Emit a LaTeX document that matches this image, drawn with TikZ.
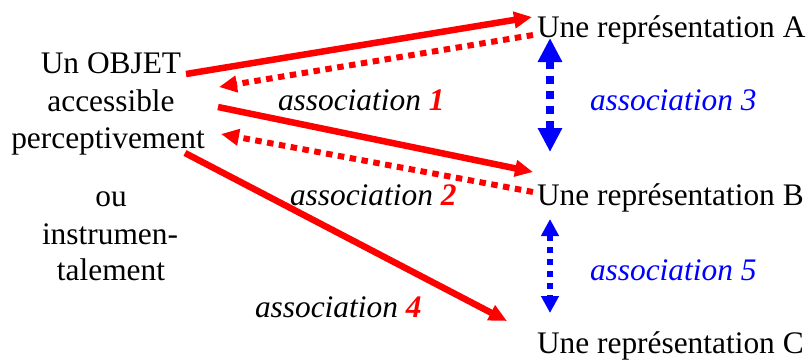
\documentclass[tikz,border=0pt]{standalone}
\usepackage{fontspec}
\setmainfont{Liberation Serif}
\newfontfamily\tnr{Liberation Serif}
\usetikzlibrary{arrows.meta}
\definecolor{rred}{RGB}{255,0,0}
\definecolor{bblue}{RGB}{0,0,255}
\tikzset{
  txt/.style={inner sep=0pt, outer sep=0pt, font=\tnr\fontsize{31.5}{37}\selectfont},
  lineL/.style={txt, anchor=base},
  rep/.style={txt, anchor=base west},
  lab/.style={txt, anchor=base west, font=\tnr\fontsize{31.5}{37}\selectfont\itshape},
  solidarrow/.style={draw=rred, line width=6.5bp, -{Triangle[length=18bp,width=16bp]}},
  dotarrow/.style={draw=rred, line width=6bp, dash pattern=on 6.5bp off 5.5bp, -{Triangle[length=18bp,width=16bp]}},
  bigdbl/.style={draw=bblue, line width=8bp, dash pattern=on 8bp off 7bp, {Triangle[length=24bp,width=23bp]}-{Triangle[length=24bp,width=23bp]}},
  smalldbl/.style={draw=bblue, line width=6bp, dash pattern=on 6bp off 6bp, {Triangle[length=17bp,width=17bp]}-{Triangle[length=17bp,width=17bp]}},
}
\begin{document}
\begin{tikzpicture}[x=1bp,y=-1bp]
\useasboundingbox (0,0) rectangle (811,359);
% left text block
\node[lineL] (o1) at (111,73) {Un OBJET};
\node[lineL] (o2) at (111,111) {accessible};
\node[lineL] (o3) at (108,148) {perceptivement};
\node[lineL] (u1) at (111,206) {ou};
\node[lineL] (u2) at (110,244) {instrumen-};
\node[lineL] (u3) at (111,280) {talement};
% representations
\node[rep] (ra) at (537,37) {Une représentation A};
\node[rep] (rb) at (537,205) {Une représentation B};
\node[rep] (rc) at (537,353) {Une représentation C};
% labels
\node[lab] (l1) at (278,110) {association \textcolor{rred}{\bfseries 1}};
\node[lab] (l2) at (290,205) {association \textcolor{rred}{\bfseries 2}};
\node[lab] (l4) at (255,317) {association \textcolor{rred}{\bfseries 4}};
\node[lab, text=bblue] (l3) at (590,110) {association 3};
\node[lab, text=bblue] (l5) at (590,280) {association 5};
% connector ends
\coordinate (s1) at (186,74);
\coordinate (t1) at (532,17);
\coordinate (s2) at (533,35);
\coordinate (t2) at (219,87);
\coordinate (s3) at (218,107);
\coordinate (t3) at (533,172);
\coordinate (s4) at (533,192);
\coordinate (t4) at (221,134);
\coordinate (s5) at (185,153);
\coordinate (t5) at (507,321);
\coordinate (b3a) at (550,38);
\coordinate (b3b) at (550,152);
\coordinate (b5a) at (550,219);
\coordinate (b5b) at (550,313);
% arrows
\draw[solidarrow] (s1) -- (t1);
\draw[dotarrow] (s2) -- (t2);
\draw[solidarrow] (s3) -- (t3);
\draw[dotarrow] (s4) -- (t4);
\draw[solidarrow] (s5) -- (t5);
\draw[bigdbl] (b3a) -- (b3b);
\draw[smalldbl] (b5a) -- (b5b);
\end{tikzpicture}
\end{document}
